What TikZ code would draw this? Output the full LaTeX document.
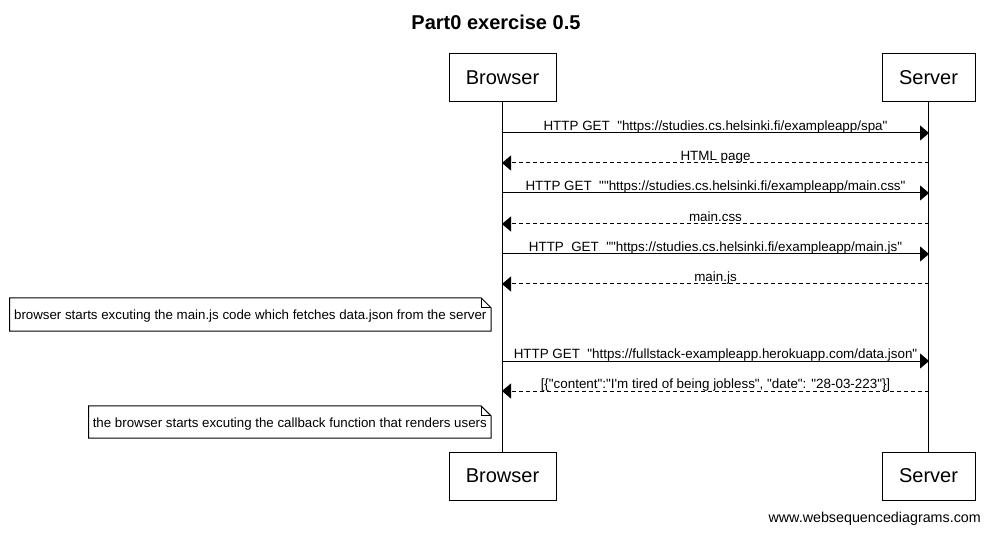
\documentclass[tikz,border=0pt]{standalone}
\usepackage{fontspec}
\setmainfont{Liberation Sans}[Ligatures=TeXOff]
\usetikzlibrary{arrows.meta}
\begin{document}
\begin{tikzpicture}[x=1pt,y=-1pt,
  actor/.style={draw,line width=1pt,minimum height=48pt,inner sep=0pt,font=\fontsize{20}{24}\selectfont},
  life/.style={line width=1pt},
  req/.style={line width=1pt,-{Triangle[length=9pt,width=15pt]}},
  resp/.style={line width=1pt,dash pattern=on 4pt off 3pt,-{Triangle[length=9pt,width=15pt]}},
  lbl/.style={font=\fontsize{13.4}{16}\selectfont,inner sep=0pt,anchor=base},
  notetext/.style={font=\fontsize{13.3}{16}\selectfont,inner xsep=0pt,inner ysep=0pt,anchor=east,text height=12.5pt,text depth=1.5pt},
  notebox/.style={line width=1pt}
]
\useasboundingbox (0,0) rectangle (990,534);
\fill[white] (0,0) rectangle (990,534);

\node[font=\bfseries\fontsize{20}{24}\selectfont] (title) at (496,22) {Part0 exercise 0.5};

\node[actor,minimum width=107pt] (bt) at (502.5,78) {Browser};
\node[actor,minimum width=93pt] (st) at (928.5,78) {Server};
\node[actor,minimum width=107pt] (bb) at (502.5,476) {Browser};
\node[actor,minimum width=93pt] (sb) at (928.5,476) {Server};

\draw[life] (bt.south) -- (bb.north);
\draw[life] (st.south) -- (sb.north);

% message coordinates
\foreach \i/\y in {1/133,2/163,3/193,4/224,5/254,6/284,7/361,8/391}{
  \coordinate (b\i) at (502,\y);
  \coordinate (s\i) at (929,\y);
}

\draw[req] (b1) -- (s1) node[lbl,pos=0.5,yshift=2.5pt] (l1) {HTTP GET\ \ "https://studies.cs.helsinki.fi/exampleapp/spa"};
\draw[resp] (s2) -- (b2) node[lbl,pos=0.5,yshift=2.5pt] (l2) {HTML page};
\draw[req] (b3) -- (s3) node[lbl,pos=0.5,yshift=2.5pt] (l3) {HTTP GET\ \ ""https://studies.cs.helsinki.fi/exampleapp/main.css"};
\draw[resp] (s4) -- (b4) node[lbl,pos=0.5,yshift=2.5pt] (l4) {main.css};
\draw[req] (b5) -- (s5) node[lbl,pos=0.5,yshift=2.5pt] (l5) {HTTP\ \ GET\ \ ""https://studies.cs.helsinki.fi/exampleapp/main.js"};
\draw[resp] (s6) -- (b6) node[lbl,pos=0.5,yshift=2.5pt] (l6) {main.js};
\draw[req] (b7) -- (s7) node[lbl,pos=0.5,yshift=2.5pt] (l7) {HTTP GET\ \ "https://fullstack-exampleapp.herokuapp.com/data.json"};
\draw[resp] (s8) -- (b8) node[lbl,pos=0.5,yshift=2.5pt] (l8) {[\{"content":"I'm tired of being jobless", "date": "28-03-223"\}]};

% notes
\node[notetext,minimum height=33pt,minimum width=481pt] (n1) at (491,314.5) {browser starts excuting the main.js code which fetches data.json from the server};
\draw[notebox] (n1.north west) -- ([xshift=-10pt]n1.north east) -- ([yshift=-10pt]n1.north east) -- (n1.south east) -- (n1.south west) -- cycle;
\draw[notebox] ([xshift=-10pt]n1.north east) -- ([xshift=-10pt,yshift=-10pt]n1.north east) -- ([yshift=-10pt]n1.north east);

\node[notetext,minimum height=32pt,minimum width=402pt] (n2) at (491,422) {the browser starts excuting the callback function that renders users};
\draw[notebox] (n2.north west) -- ([xshift=-10pt]n2.north east) -- ([yshift=-10pt]n2.north east) -- (n2.south east) -- (n2.south west) -- cycle;
\draw[notebox] ([xshift=-10pt]n2.north east) -- ([xshift=-10pt,yshift=-10pt]n2.north east) -- ([yshift=-10pt]n2.north east);

\node[font=\fontsize{14.3}{17}\selectfont,anchor=east,inner sep=0pt] (footer) at (981,519) {www.websequencediagrams.com};
\end{tikzpicture}
\end{document}
